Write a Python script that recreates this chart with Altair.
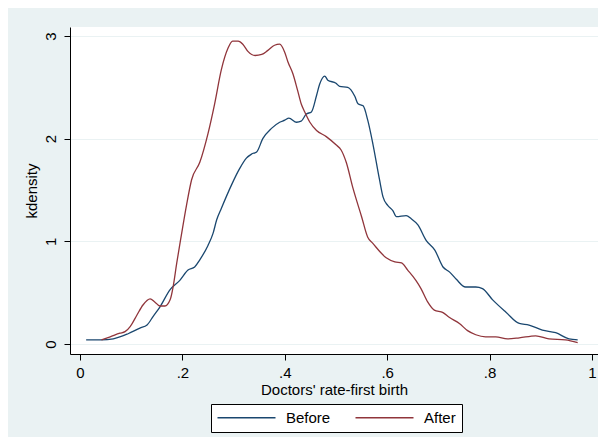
import altair as alt
import pandas as pd

before_x = [0.012, 0.042, 0.065, 0.094, 0.117, 0.131, 0.143, 0.156, 0.176, 0.195,
            0.211, 0.224, 0.234, 0.25, 0.26, 0.267, 0.276, 0.296, 0.312, 0.325,
            0.335, 0.345, 0.357, 0.374, 0.39, 0.4, 0.408, 0.423, 0.432, 0.442,
            0.452, 0.462, 0.468, 0.478, 0.484, 0.5, 0.507, 0.523, 0.537, 0.543,
            0.553, 0.562, 0.572, 0.585, 0.592, 0.601, 0.611, 0.618, 0.637, 0.647,
            0.66, 0.676, 0.693, 0.709, 0.722, 0.735, 0.753, 0.773, 0.786, 0.806,
            0.832, 0.858, 0.877, 0.903, 0.929, 0.955, 0.972]
before_y = [0.04, 0.04, 0.05, 0.10, 0.155, 0.185, 0.27, 0.36, 0.53, 0.62,
            0.72, 0.75, 0.82, 0.96, 1.08, 1.21, 1.32, 1.55, 1.71, 1.81,
            1.85, 1.87, 2.0, 2.10, 2.16, 2.18, 2.2, 2.16, 2.17, 2.24,
            2.26, 2.42, 2.53, 2.61, 2.57, 2.54, 2.51, 2.5, 2.41, 2.34,
            2.32, 2.18, 1.95, 1.6, 1.43, 1.35, 1.30, 1.24, 1.25, 1.22,
            1.16, 1.01, 0.915, 0.75, 0.70, 0.63, 0.555, 0.555, 0.54, 0.43,
            0.31, 0.2, 0.185, 0.135, 0.11, 0.05, 0.04]

after_x = [0.042, 0.059, 0.078, 0.088, 0.098, 0.111, 0.123, 0.137, 0.146, 0.156,
           0.166, 0.176, 0.182, 0.189, 0.198, 0.208, 0.218, 0.234, 0.25, 0.263,
           0.276, 0.289, 0.298, 0.309, 0.318, 0.328, 0.342, 0.355, 0.367, 0.38,
           0.39, 0.4, 0.406, 0.416, 0.425, 0.432, 0.439, 0.449, 0.462, 0.481,
           0.5, 0.51, 0.52, 0.533, 0.55, 0.562, 0.572, 0.598, 0.615, 0.628,
           0.64, 0.656, 0.666, 0.679, 0.692, 0.709, 0.721, 0.741, 0.757, 0.773,
           0.792, 0.812, 0.835, 0.858, 0.89, 0.916, 0.948, 0.972]
after_y = [0.04, 0.07, 0.105, 0.12, 0.17, 0.28, 0.38, 0.44, 0.41, 0.37,
           0.37, 0.43, 0.56, 0.79, 1.06, 1.35, 1.6, 1.77, 2.05, 2.34,
           2.67, 2.88, 2.95, 2.95, 2.92, 2.85, 2.81, 2.82, 2.86, 2.91,
           2.92, 2.84, 2.75, 2.63, 2.47, 2.34, 2.26, 2.16, 2.08, 2.02,
           1.94, 1.89, 1.77, 1.52, 1.24, 1.04, 0.98, 0.84, 0.80, 0.79,
           0.72, 0.62, 0.54, 0.41, 0.33, 0.305, 0.26, 0.2, 0.13, 0.09,
           0.07, 0.07, 0.05, 0.06, 0.08, 0.05, 0.04, 0.013]

series = ["Before", "After"]
colors = ["#1a476f", "#90353b"]
x_ticks = [0, 0.2, 0.4, 0.6, 0.8, 1]
y_ticks = [0, 1, 2, 3]

df = pd.concat([
    pd.DataFrame({"x": before_x, "y": before_y, "group": "Before", "order": range(len(before_x))}),
    pd.DataFrame({"x": after_x, "y": after_y, "group": "After", "order": range(len(after_x))}),
])

FONT = "Liberation Sans"
BG = "#EAF2F3"

chart = alt.Chart(df).mark_line(strokeWidth=1.3, interpolate="monotone").encode(
    x=alt.X("x:Q",
            scale=alt.Scale(domain=[-0.0195, 1.0117], nice=False, zero=False),
            axis=alt.Axis(values=x_ticks, title="Doctors' rate-first birth",
                          labelExpr="datum.value == 0 ? '0' : datum.value == 1 ? '1' : replace(format(datum.value, '.1f'), '0.', '.')",
                          grid=False, tickSize=6, labelPadding=5, titlePadding=2,
                          domainColor="#000000", tickColor="#000000",
                          labelColor="#000000", titleColor="#000000",
                          labelFontSize=15, titleFontSize=15,
                          labelFont=FONT, titleFont=FONT, titleFontWeight="normal")),
    y=alt.Y("y:Q",
            scale=alt.Scale(domain=[-0.0974, 3.0877], nice=False, zero=False),
            axis=alt.Axis(values=y_ticks, title="kdensity", format="d",
                          grid=True, gridColor=BG, gridWidth=1.2,
                          tickSize=6, labelAngle=270, labelAlign="center", labelBaseline="bottom",
                          labelPadding=6, titlePadding=4,
                          domainColor="#000000", tickColor="#000000",
                          labelColor="#000000", titleColor="#000000",
                          labelFontSize=15, titleFontSize=15,
                          labelFont=FONT, titleFont=FONT, titleFontWeight="normal")),
    color=alt.Color("group:N", scale=alt.Scale(domain=series, range=colors),
                    legend=alt.Legend(orient="none", legendX=141, legendY=377,
                                      direction="horizontal", title=None,
                                      symbolType="M-2.333,0H17", symbolSize=36,
                                      symbolStrokeWidth=1.3,
                                      labelFontSize=15, labelFont=FONT, labelColor="#000000",
                                      padding=6, strokeColor="#000000", fillColor="#FFFFFF",
                                      columnPadding=21, labelOffset=54, cornerRadius=0)),
    order="order:Q",
).properties(
    width=528, height=327,
    background=BG,
    padding={"left": 62, "top": 19, "right": 0, "bottom": 83},
    autosize=alt.AutoSizeParams(type="none"),
).configure_view(fill="#FFFFFF", stroke=None)

chart.save("out.html", embed_options={"renderer": "svg", "actions": False})
